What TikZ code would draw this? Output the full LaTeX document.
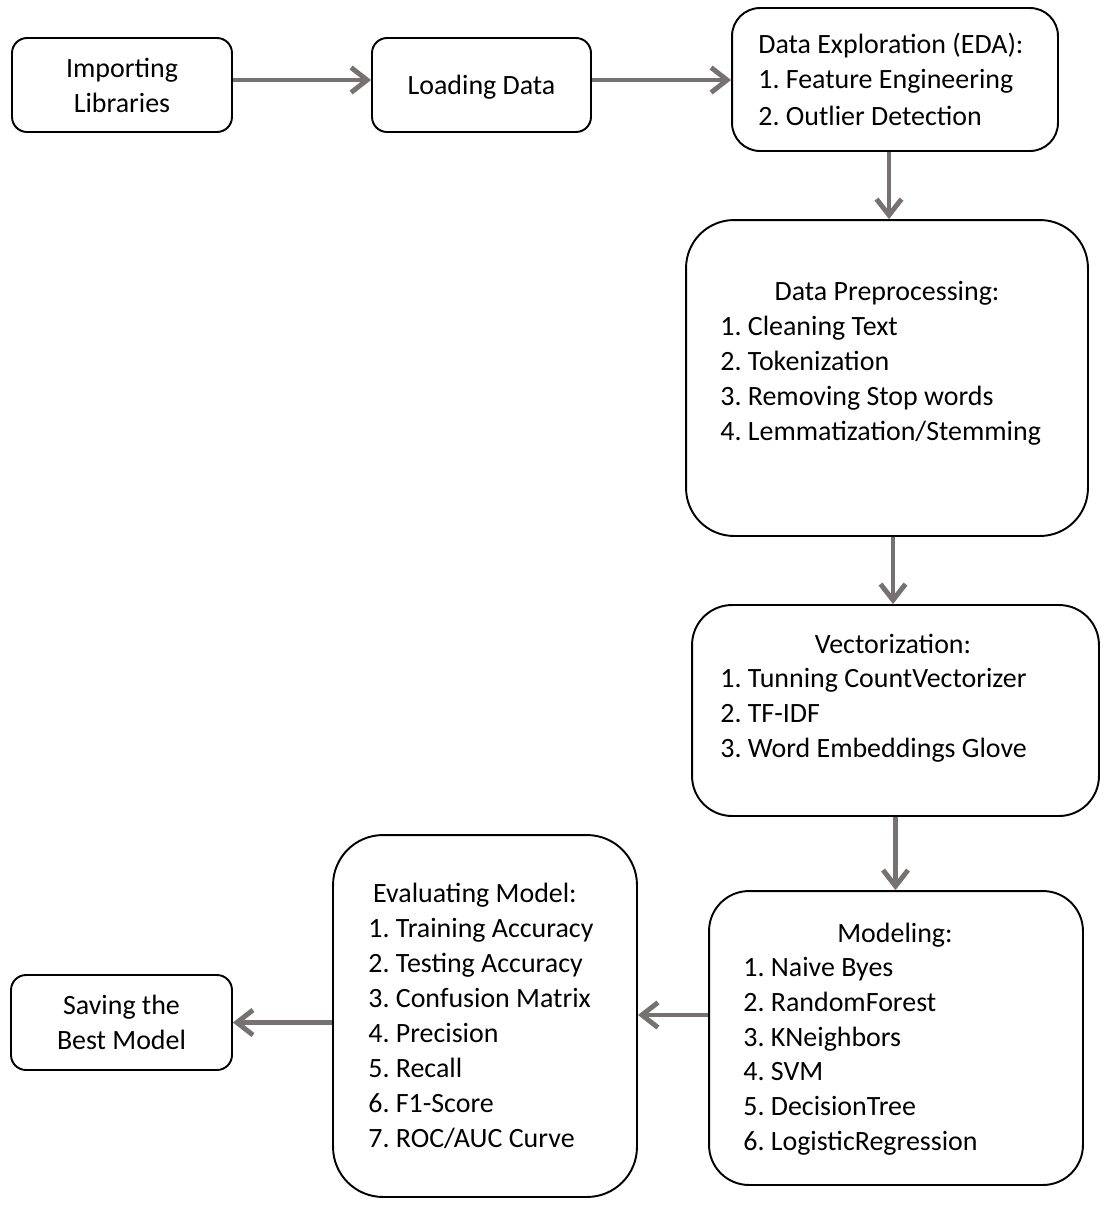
\documentclass[tikz,border=0pt]{standalone}
\usepackage{fontspec}
\setmainfont{Carlito}
\usepackage{xcolor}
\definecolor{FlowGray}{RGB}{118,114,114}
\usetikzlibrary{arrows.meta}
\frenchspacing
\tikzstyle{Txt}=[font=\fontsize{15.9}{19.9}\selectfont,inner sep=0pt]
\tikzstyle{Box}=[draw=black,line width=1.1pt,rectangle,inner sep=0pt,Txt,
align=center]
\tikzstyle{Flow}=[draw=FlowGray,line width=2.8pt,
-{Straight Barb[length=.32cm,width=.5cm]}]

\begin{document}
\begin{tikzpicture}[x=.02cm,y=-.02cm]
        \useasboundingbox (0,0) rectangle (1104,1208);
        % boxes
        \node[Box,rounded corners=.3cm,minimum width=4.4cm,
            minimum height=1.88cm](imp)at(122,85){Importing\\Libraries};
        \node[Box,rounded corners=.3cm,minimum width=4.38cm,
            minimum height=1.88cm,text depth=0pt](load)at(481.5,85)
            {Loading Data};
        \node[Box,rounded corners=.56cm,minimum width=6.52cm,
            minimum height=2.86cm](eda)at(895,79.5){};
        \node[Box,rounded corners=.96cm,minimum width=8.04cm,
            minimum height=6.32cm](prep)at(887,378){};
        \node[Box,rounded corners=.8cm,minimum width=8.14cm,
            minimum height=4.22cm](vec)at(895.5,710.5){};
        \node[Box,rounded corners=.8cm,minimum width=7.48cm,
            minimum height=5.88cm](mod)at(896,1038){};
        \node[Box,rounded corners=1cm,minimum width=6.08cm,
            minimum height=7.24cm](eval)at(485,1016){};
        \node[Box,rounded corners=.3cm,minimum width=4.42cm,
            minimum height=1.9cm](save)at(121.5,1022.5)
            {Saving the\\Best Model};
        % texts
        \node[Txt,anchor=base west](eda0)at(758,53){Data Exploration (EDA):};
        \node[Txt,anchor=base west](eda1)at(758,88){1. Feature Engineering};
        \node[Txt,anchor=base west](eda2)at(758,125){2. Outlier Detection};
        \node[Txt,anchor=base](prep0)at(887,300){Data Preprocessing:};
        \foreach \t[count=\i] in {1. Cleaning Text,2. Tokenization,
            3. Removing Stop words,4. Lemmatization/Stemming}
            \node[Txt,anchor=base west](prep\i)at(720,300+35*\i){\t};
        \node[Txt,anchor=base](vec0)at(893,653){Vectorization:};
        \foreach \t[count=\i] in {1. Tunning CountVectorizer,2. TF-IDF,
            3. Word Embeddings Glove}
            \node[Txt,anchor=base west](vec\i)at(720,653+34.7*\i){\t};
        \node[Txt,anchor=base](mod0)at(895,942){Modeling:};
        \foreach \t[count=\i] in {1. Naive Byes,2. RandomForest,
            3. KNeighbors,4. SVM,5. DecisionTree,6. LogisticRegression}
            \node[Txt,anchor=base west](mod\i)at(743,942+34.7*\i){\t};
        \node[Txt,anchor=base](eval0)at(475,902){Evaluating Model:};
        \foreach \t[count=\i] in {1. Training Accuracy,2. Testing Accuracy,
            3. Confusion Matrix,4. Precision,5. Recall,6. F1-Score,
            7. ROC/AUC Curve}
            \node[Txt,anchor=base west](eval\i)at(368,902+35.1*\i){\t};
        % arrows
        \draw[Flow]([yshift=.1cm]imp.east)--([yshift=.1cm]imp.east-|load.west);
        \draw[Flow]([yshift=.1cm]load.east)--([yshift=.1cm]load.east-|eda.west);
        \draw[Flow]([xshift=-.12cm]eda.south)--([xshift=-.12cm]eda.south|-prep.north);
        \draw[Flow]([xshift=.12cm]prep.south)--([xshift=.12cm]prep.south|-vec.north);
        \draw[Flow](vec.south)--(vec.south|-mod.north);
        \draw[Flow]([yshift=.46cm]mod.west)--([yshift=.46cm]mod.west-|eval.east);
        \draw[Flow](eval.west|-save.east)--(save.east);
    \end{tikzpicture}
\end{document}
